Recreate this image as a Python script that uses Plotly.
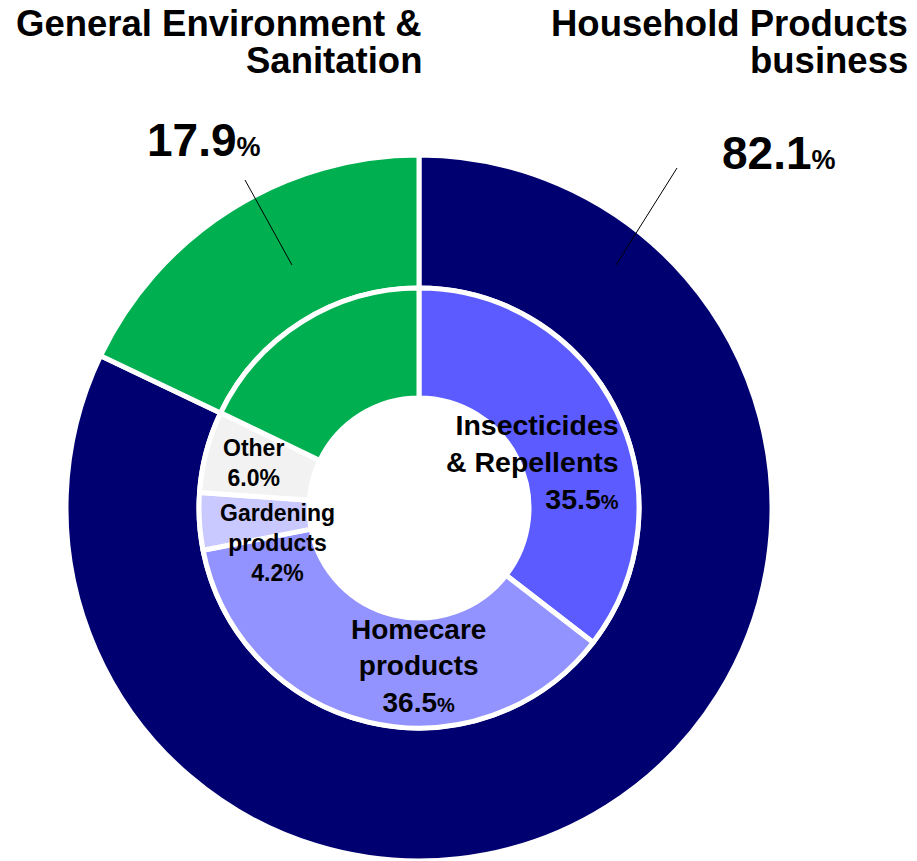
import plotly.graph_objects as go

# Segment shares (%)
outer_labels = ["Household Products business", "General Environment & Sanitation"]
outer_values = [82.1, 17.9]
outer_colors = ["#000070", "#00B050"]

inner_labels = ["Insecticides & Repellents", "Homecare products", "Gardening products", "Other",
                "General Environment & Sanitation"]
inner_values = [35.5, 36.5, 4.2, 6.0, 17.9]
inner_colors = ["#5B5BFF", "#9393FF", "#C9C9FF", "#F2F2F2", "#00B050"]

W, H = 917, 861
CX, CY = 419, 508          # ring centre (px)
R_OUT, R_MID, R_IN = 353, 220, 110

FONT = "Liberation Sans, Arial, sans-serif"


def px(x):
    return min(max(x / W, 0.0), 1.0)


def py(y):
    return min(max(1 - y / H, 0.0), 1.0)


def domain(r):
    return dict(x=[px(CX - r), px(CX + r)], y=[py(CY + r), py(CY - r)])


fig = go.Figure()
fig.add_trace(go.Pie(
    labels=outer_labels, values=outer_values, sort=False, direction="clockwise", rotation=0,
    hole=R_MID / R_OUT, domain=domain(R_OUT), textinfo="none", hoverinfo="label+percent",
    marker=dict(colors=outer_colors, line=dict(color="white", width=5)), showlegend=False,
))
fig.add_trace(go.Pie(
    labels=inner_labels, values=inner_values, sort=False, direction="clockwise", rotation=0,
    hole=R_IN / R_MID, domain=domain(R_MID), textinfo="none", hoverinfo="label+percent",
    marker=dict(colors=inner_colors, line=dict(color="white", width=5)), showlegend=False,
))

DESC = 0.212


def label(text, x, baseline, size, xanchor="center", align="center"):
    fig.add_annotation(
        text=text, x=px(x), y=py(baseline + DESC * size + 1), xref="paper", yref="paper",
        xanchor=xanchor, yanchor="bottom", align=align, showarrow=False,
        font=dict(family=FONT, size=size, color="black", weight="bold"),
    )


def pct(v, small):
    return f"{v}<span style='font-size:{small}px'>%</span>"


# Segment group headings
label("General Environment &", 424, 37, 36.5, xanchor="right", align="right")
label("Sanitation", 424, 74, 36.5, xanchor="right", align="right")
label("Household Products", 910, 37, 36.5, xanchor="right", align="right")
label("business", 910, 74, 36.5, xanchor="right", align="right")

# Outer ring values
label(pct(outer_values[1], 27), 145, 157, 46, xanchor="left", align="left")
label(pct(outer_values[0], 27), 720, 170, 46, xanchor="left", align="left")

# Leader lines
for (x0, y0, x1, y1) in [(245, 180, 292, 265), (677, 168, 616, 265)]:
    fig.add_shape(type="line", xref="paper", yref="paper",
                  x0=px(x0), y0=py(y0), x1=px(x1), y1=py(y1),
                  line=dict(color="black", width=1))

# Inner ring labels
label("Insecticides<br>&amp; Repellents<br>" + pct(inner_values[0], 20), 621, 510, 28.5,
      xanchor="right", align="right")
label("Homecare<br>products<br>" + pct(inner_values[1], 20), 418, 713, 28)
label(f"Gardening<br>products<br>{inner_values[2]}%", 277, 582, 23)
label(f"Other<br>{inner_values[3]}%", 253, 487, 23)

fig.update_layout(
    width=W, height=H, margin=dict(l=0, r=0, t=0, b=0),
    paper_bgcolor="white", plot_bgcolor="white",
)

fig.write_html("out.html")
